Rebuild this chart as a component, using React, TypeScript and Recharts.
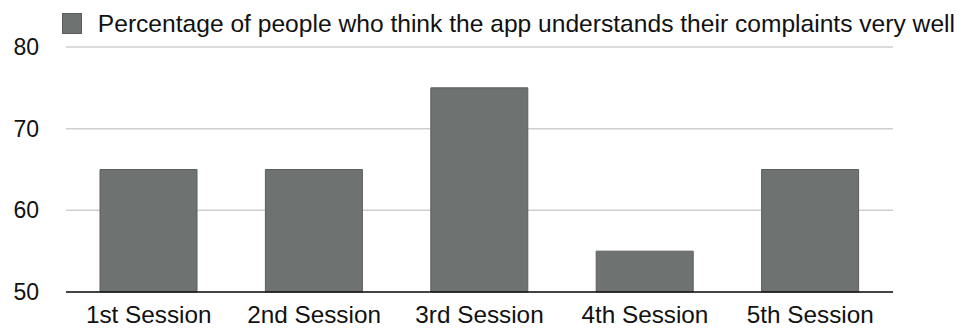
import { BarChart, Bar, XAxis, YAxis, CartesianGrid, Legend } from "recharts";

const sessions = ["1st Session", "2nd Session", "3rd Session", "4th Session", "5th Session"];
const understoodPct = [65, 65, 75, 55, 65];
const yTicks = [50, 60, 70, 80];

const SERIES_NAME = "Percentage of people who think the app understands their complaints very well";
const BAR_FILL = "#6e7270";
const BAR_STROKE = "#5b5e5c";
const FONT = "'Liberation Sans', Arial, sans-serif";

const data = sessions.map((s, i) => ({ session: s, value: understoodPct[i] }));

function LegendRow() {
  return (
    <div style={{ display: "flex", alignItems: "flex-start", height: 34, fontFamily: FONT }}>
      <div style={{ width: 21, height: 21, background: BAR_FILL, border: `1px solid ${BAR_STROKE}`, boxSizing: "border-box" }} />
      <span style={{ marginLeft: 16, fontSize: 24.6, lineHeight: "22px", color: "#111", whiteSpace: "nowrap" }}>{SERIES_NAME}</span>
    </div>
  );
}

export default function App() {
  return (
    <div style={{ position: "absolute", left: 0, top: 0, background: "#fff" }}>
      <BarChart width={965} height={329} data={data} margin={{ top: 13, right: 72, left: 0, bottom: 7 }}>
        <Legend verticalAlign="top" align="left" content={() => <LegendRow />} wrapperStyle={{ left: 62, top: 13 }} />
        <CartesianGrid vertical={false} stroke="#cfcfcf" strokeWidth={1.5} />
        <XAxis
          dataKey="session"
          tickLine={false}
          axisLine={{ stroke: "#111", strokeWidth: 1.5 }}
          tickMargin={8}
          tick={{ fill: "#111", fontSize: 24.3, fontFamily: FONT }}
          interval={0}
        />
        <YAxis
          domain={[50, 80]}
          ticks={yTicks}
          width={66}
          axisLine={false}
          tickLine={false}
          tickMargin={21}
          tick={{ fill: "#111", fontSize: 23, fontFamily: FONT }}
        />
        <Bar dataKey="value" name={SERIES_NAME} fill={BAR_FILL} stroke={BAR_STROKE} strokeWidth={1} barSize={97} isAnimationActive={false} />
      </BarChart>
    </div>
  );
}
